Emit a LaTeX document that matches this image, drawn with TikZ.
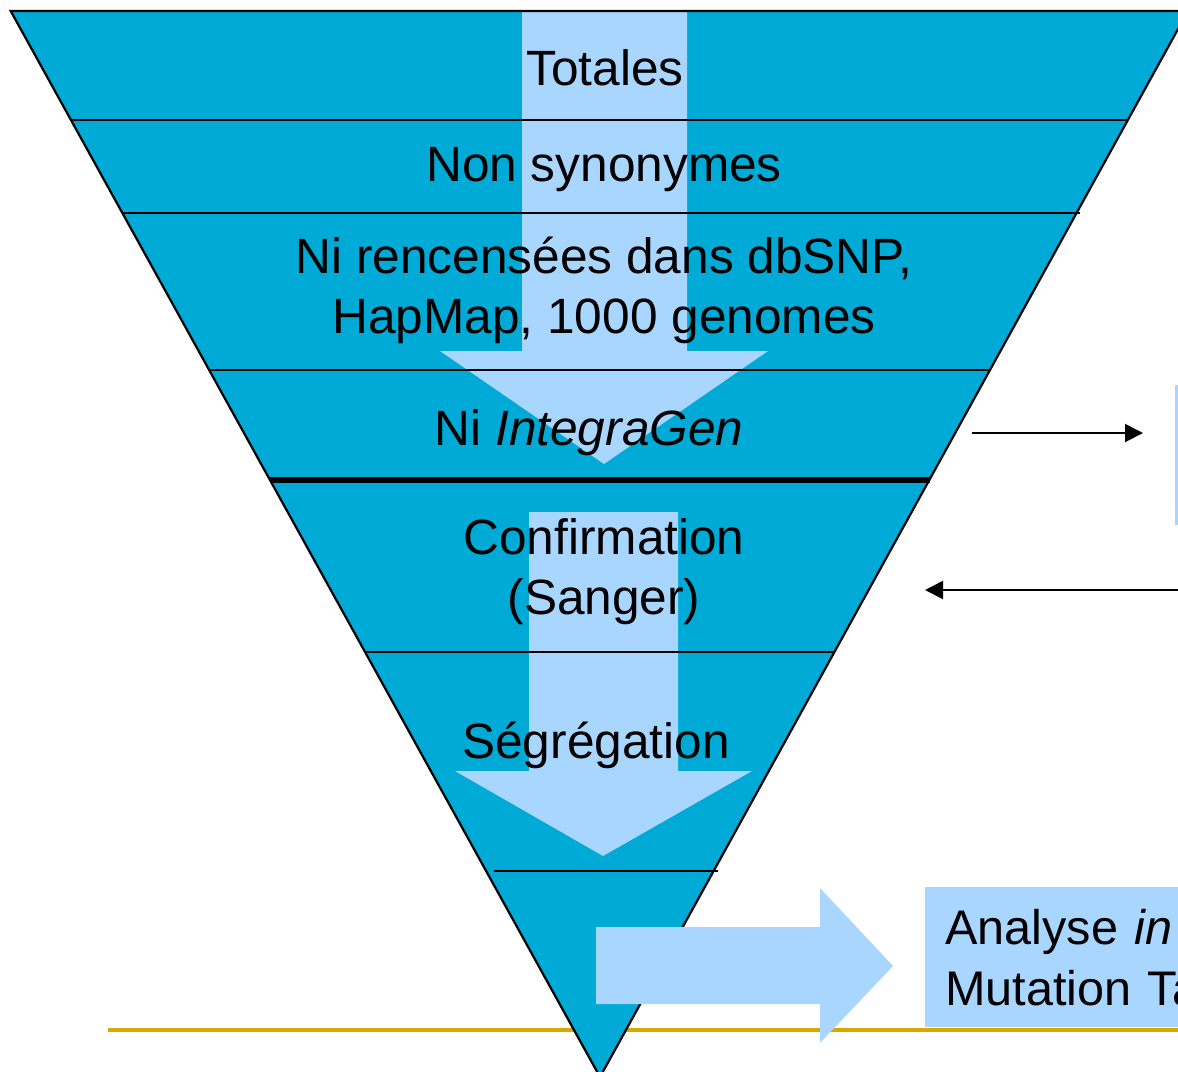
\documentclass[tikz,border=0pt]{standalone}
\usepackage{fontspec}
\setmainfont{Liberation Sans}
\usetikzlibrary{arrows.meta}
\definecolor{funnel}{RGB}{0,170,214}
\definecolor{pale}{RGB}{168,214,255}
\definecolor{goldline}{RGB}{214,168,0}
\begin{document}
\begin{tikzpicture}[x=0.5pt,y=-0.5pt,
  lbl/.style={font=\fontsize{24.8}{30}\selectfont, inner sep=0pt, text=black},
  sepline/.style={draw=black, line width=1.1pt},
  blockarrow/.style={fill=pale, draw=none},
  thinarrow/.style={draw=black, line width=1pt, -{Triangle[length=9pt,width=9pt]}},
  palebox/.style={fill=pale, draw=none, anchor=north west}]
\useasboundingbox (0,0) rectangle (1178,1071);
\clip (0,0) rectangle (1178,1071);
% gold base line
\draw[goldline, line width=2pt] (108,1030) -- (1178,1030);
% funnel fill
\fill[funnel] (10.7,11) -- (1188,11) -- (600,1077) -- cycle;
% big down arrows
\fill[blockarrow] (522,12) -- (687,12) -- (687,351) -- (768,351) -- (604,464) -- (440,351) -- (522,351) -- cycle;
\fill[blockarrow] (529,512) -- (678,512) -- (678,771) -- (752,771) -- (603,856) -- (455,771) -- (529,771) -- cycle;
% funnel outline
\draw[black, line width=1.1pt, line join=miter] (10.7,11) -- (1188,11) -- (600,1077) -- cycle;
% separators
\draw[sepline] (71,120) -- (1128,120);
\draw[sepline] (122,213) -- (1080,213);
\draw[sepline] (209,370) -- (990,370);
\draw[sepline, line width=2.6pt] (270,480) -- (930,480);
\draw[sepline] (365,652) -- (835,652);
\draw[sepline] (494,871) -- (718,871);
% right block arrow
\fill[blockarrow] (596,927) -- (820,927) -- (820,888) -- (893,966) -- (820,1043) -- (820,1004) -- (596,1004) -- cycle;
% boxes on the right
\node[palebox, minimum width=20pt, minimum height=70pt, inner sep=0pt] (igbox) at (1175,385) {};
\node[palebox, lbl, font=\fontsize{24.3}{30.5}\selectfont, minimum height=70pt, text width=150pt, inner xsep=10pt, align=left] (silico) at (925,887) {Analyse \textit{in}\\Mutation Ta};
% thin arrows
\coordinate (a1s) at (972,433);
\draw[thinarrow, shorten >=16pt] (a1s) -- (a1s -| igbox.west);
\coordinate (a2s) at (1190,590);
\coordinate (a2e) at (925,590);
\draw[thinarrow] (a2s) -- (a2e);
% labels
\node[lbl, anchor=base] (tot) at (605,85) {Totales};
\node[lbl, anchor=base] (nonsyn) at (604,181) {Non synonymes};
\node[lbl, align=center] (dbsnp) at (604,290) {Ni rencensées dans dbSNP,\\HapMap, 1000 genomes};
\node[lbl, anchor=base] (integ) at (589,445) {Ni \textit{IntegraGen}};
\node[lbl, align=center] (sanger) at (604,572) {Confirmation\\(Sanger)};
\node[lbl, anchor=base] (segr) at (596,758) {Ségrégation};
\end{tikzpicture}
\end{document}
